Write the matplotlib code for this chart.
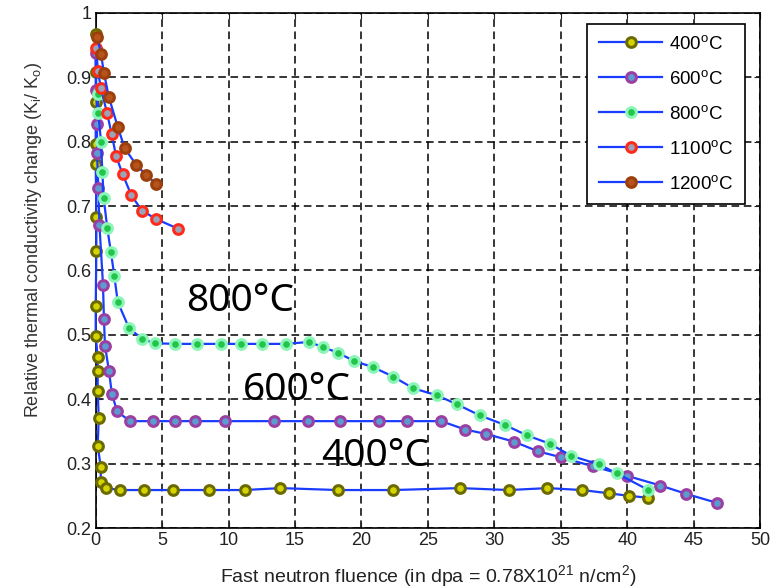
import matplotlib
matplotlib.use("Agg")
import matplotlib.pyplot as plt

plt.rcParams['font.family'] = ['Liberation Sans', 'DejaVu Sans']
plt.rcParams['mathtext.fontset'] = 'custom'
plt.rcParams['mathtext.rm'] = 'Liberation Sans'
plt.rcParams['mathtext.it'] = 'Liberation Sans'

# datos
x400 = [0.0, 0.0, 0.0, 0.0, 0.0, 0.05, 0.05, 0.0, 0.0, 0.15, 0.15, 0.15, 0.23, 0.15,
        0.38, 0.38, 0.78, 1.85, 3.6, 5.8, 8.5, 11.2, 13.9, 18.2, 22.4, 27.4, 31.1,
        34.0, 36.6, 38.6, 40.1, 41.6]
y400 = [0.967, 0.909, 0.861, 0.797, 0.766, 0.683, 0.631, 0.545, 0.499, 0.465, 0.444,
        0.413, 0.371, 0.328, 0.295, 0.272, 0.262, 0.259, 0.259, 0.259, 0.259, 0.259,
        0.262, 0.259, 0.259, 0.262, 0.259, 0.262, 0.259, 0.254, 0.250, 0.247]

x600 = [0.0, 0.05, 0.1, 0.1, 0.2, 0.28, 0.55, 0.62, 0.7, 1.0, 1.22, 1.62, 2.58, 4.29,
        5.95, 7.45, 9.7, 13.4, 16.0, 18.4, 21.3, 23.4, 26.0, 27.8, 29.4, 31.5, 33.3,
        35.0, 37.4, 40.0, 42.5, 44.45, 46.76]
y600 = [0.937, 0.880, 0.828, 0.783, 0.728, 0.671, 0.578, 0.525, 0.483, 0.444, 0.408,
        0.381, 0.366, 0.366, 0.366, 0.366, 0.366, 0.366, 0.366, 0.366, 0.366, 0.366,
        0.366, 0.353, 0.346, 0.334, 0.319, 0.310, 0.296, 0.281, 0.266, 0.253, 0.239]

x800 = [0.15, 0.2, 0.4, 0.5, 0.6, 0.87, 1.15, 1.4, 1.66, 2.5, 3.52, 4.5, 5.95, 7.6,
        9.44, 10.94, 12.5, 14.33, 16.06, 17.1, 18.27, 19.47, 20.86, 22.4, 23.9, 25.7,
        27.2, 28.9, 30.8, 32.45, 34.16, 35.8, 37.85, 39.2, 41.6]
y800 = [0.874, 0.844, 0.800, 0.753, 0.713, 0.666, 0.628, 0.592, 0.551, 0.511, 0.493,
        0.487, 0.486, 0.486, 0.486, 0.486, 0.486, 0.486, 0.489, 0.481, 0.472, 0.459,
        0.450, 0.435, 0.417, 0.406, 0.392, 0.375, 0.360, 0.344, 0.331, 0.312, 0.299,
        0.285, 0.259]

x1100 = [0.03, 0.17, 0.39, 0.85, 1.2, 1.53, 2.02, 2.68, 3.48, 4.54, 6.18]
y1100 = [0.946, 0.910, 0.883, 0.845, 0.812, 0.778, 0.750, 0.717, 0.693, 0.680, 0.665]

x1200 = [0.13, 0.4, 0.62, 0.98, 1.66, 2.18, 3.05, 3.82, 4.53]
y1200 = [0.962, 0.936, 0.907, 0.870, 0.823, 0.790, 0.764, 0.748, 0.735]

series = [
    (x400, y400, '400$^{\\mathrm{o}}$C', '#6b6a00', '#d4d400'),
    (x600, y600, '600$^{\\mathrm{o}}$C', '#9b3fa3', '#5b9bd0'),
    (x800, y800, '800$^{\\mathrm{o}}$C', '#8cf5b8', '#22c44a'),
    (x1100, y1100, '1100$^{\\mathrm{o}}$C', '#ff2a1a', '#9aa3b8'),
    (x1200, y1200, '1200$^{\\mathrm{o}}$C', '#9c3f0c', '#b5541c'),
]

fig = plt.figure(figsize=(7.78, 5.88), dpi=100)
ax = fig.add_axes([0.123, 0.102, 0.854, 0.876])

for xs, ys, etiqueta, borde, relleno in series:
    ax.plot(xs, ys, color='#1a3cff', lw=1.6, marker='o', ms=7,
            mec=borde, mfc=relleno, mew=2.2, label=etiqueta, clip_on=False, zorder=3)

ax.set_xlim(0, 50)
ax.set_ylim(0.2, 1.0)
ax.set_xticks(range(0, 51, 5))
ax.set_yticks([0.2, 0.3, 0.4, 0.5, 0.6, 0.7, 0.8, 0.9, 1.0])
ax.set_yticklabels(['0.2', '0.3', '0.4', '0.5', '0.6', '0.7', '0.8', '0.9', '1'])
ax.tick_params(direction='in', top=True, right=True, labelsize=13, length=4,
               colors='#222222', pad=3)
ax.grid(True, color='black', linestyle=(0, (5, 3)), linewidth=1.1)
for s in ax.spines.values():
    s.set_linewidth(1.2)

ax.set_xlabel('Fast neutron fluence (in dpa = 0.78X10$^{21}$ n/cm$^{2}$)',
              fontsize=14, color='#222222', labelpad=10)
ax.set_ylabel('Relative thermal conductivity change (K$_{\\mathrm{i}}$/ K$_{\\mathrm{o}}$)',
              fontsize=13, color='#333333')
ax.yaxis.set_label_coords(-0.078, 0.56)

ax.text(6.8, 0.553, '800°C', fontsize=28, family='Noto Sans', va='center')
ax.text(11.1, 0.414, '600°C', fontsize=28, family='Noto Sans', va='center')
ax.text(17.0, 0.312, '400°C', fontsize=28, family='Noto Sans', va='center')

leg = ax.legend(loc='upper right', fontsize=13.5, frameon=True, fancybox=False,
                edgecolor='black', framealpha=1, handlelength=3.4,
                handletextpad=0.35, borderpad=0.6, labelspacing=0.9,
                borderaxespad=0, bbox_to_anchor=(0.977, 0.979))
leg.get_frame().set_linewidth(1.2)

fig.savefig('out.png', dpi=100)
